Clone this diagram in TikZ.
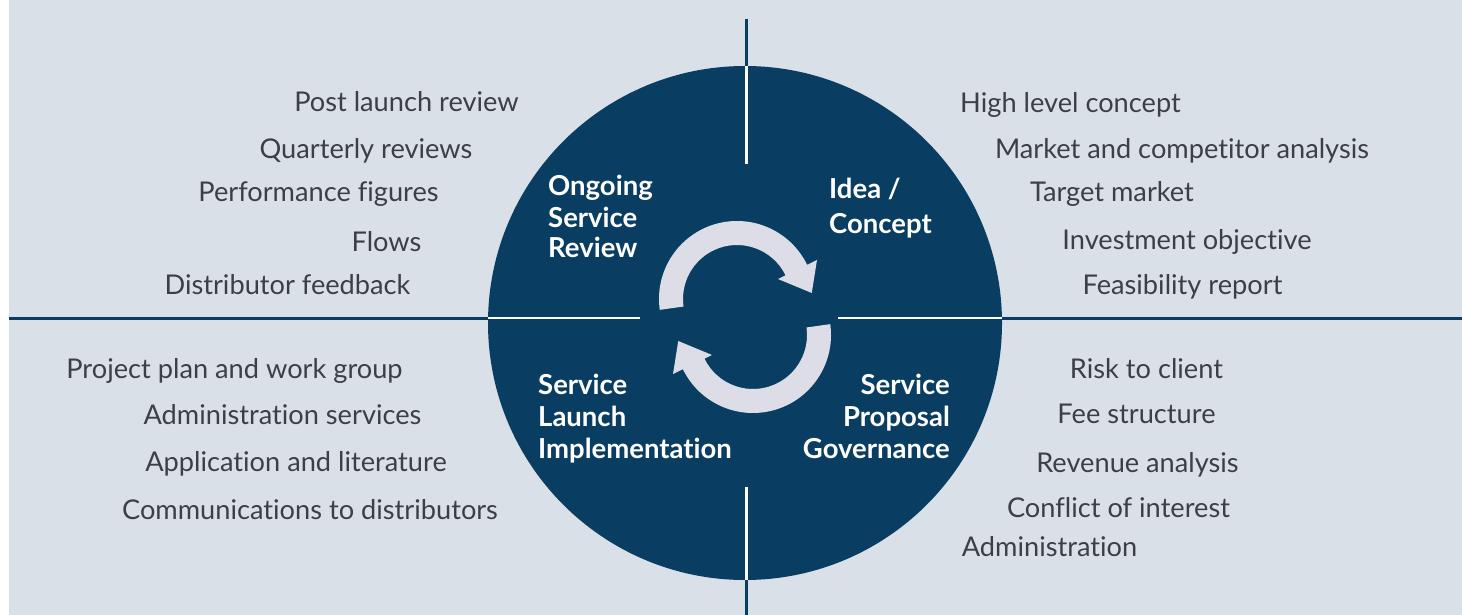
\documentclass[tikz,border=0pt]{standalone}
\usepackage{fontspec}
\setmainfont{Lato}[Ligatures=NoCommon]
\usetikzlibrary{calc}
\definecolor{bgc}{RGB}{217,224,231}
\definecolor{navy}{RGB}{9,62,98}
\definecolor{arrowc}{RGB}{220,221,230}
\definecolor{txtc}{RGB}{60,64,68}
\tikzset{
  outer label/.style={anchor=base, inner sep=0pt, text=txtc, font=\fontsize{27.2}{32}\selectfont},
  phase label/.style={inner sep=0pt, text=white, font=\fontsize{27.5}{32}\selectfont\bfseries},
  darkline/.style={draw=navy, line width=3pt},
  whiteline/.style={draw=white, line width=2.5pt},
  cyclearrow/.style={fill=arrowc},
}
\begin{document}
\begin{tikzpicture}[x=1pt,y=1pt]
\useasboundingbox (0,0) rectangle (1462,-615);
\fill[white] (0,0) rectangle (1462,-615);
\fill[bgc] (9,0) rectangle (1462,-615);

% dividers outside the circle
\coordinate (vtop) at (746.5,-19);
\coordinate (vbot) at (746.5,-615);
\coordinate (hleft) at (9,-318);
\coordinate (hright) at (1462,-318);
\draw[darkline] (vtop) -- (vbot);
\draw[darkline] (hleft) -- (hright);

% main circle
\node[circle, fill=navy, minimum size=514pt, inner sep=0pt] (disc) at (745,-323) {};

% white dividers inside the circle
\coordinate (wt1) at (746.5,-66);
\coordinate (wt2) at (746.5,-164);
\coordinate (wb1) at (746.5,-487);
\coordinate (wb2) at (746.5,-580);
\coordinate (wl1) at (488,-318);
\coordinate (wl2) at (640,-318);
\coordinate (wr1) at (838,-318);
\coordinate (wr2) at (1002,-318);
\draw[whiteline] (wt1) -- (wt2);
\draw[whiteline] (wb1) -- (wb2);
\draw[whiteline] (wl1) -- (wl2);
\draw[whiteline] (wr1) -- (wr2);

% cycle arrows
\coordinate (C1) at (737,-299);
\coordinate (C2) at (753,-335);
\fill[cyclearrow] ($(C1)+(188:78)$) arc[start angle=188,end angle=26,radius=78]
  -- ($(C1)+(26:89)$) -- ($(C1)+(4.6:75)$) -- ($(C1)+(26:45.6)$)
  -- ($(C1)+(26:54)$) arc[start angle=26,end angle=188,radius=54] -- cycle;
\fill[cyclearrow] ($(C2)+(8:78)$) arc[start angle=8,end angle=-154,radius=78]
  -- ($(C2)+(-154:89)$) -- ($(C2)+(184.6:75)$) -- ($(C2)+(-154:45.6)$)
  -- ($(C2)+(-154:54)$) arc[start angle=-154,end angle=8,radius=54] -- cycle;

% phase labels
\node[phase label, anchor=base west] (og1) at (548,-196) {Ongoing};
\node[phase label, anchor=base west] (og2) at (548,-227) {Service};
\node[phase label, anchor=base west] (og3) at (548,-257) {Review};
\node[phase label, anchor=base west] (ic1) at (829,-198) {Idea /};
\node[phase label, anchor=base west] (ic2) at (829,-233) {Concept};
\node[phase label, anchor=base west] (sl1) at (538,-394) {Service};
\node[phase label, anchor=base west] (sl2) at (538,-426) {Launch};
\node[phase label, anchor=base west] (sl3) at (538,-458) {Implementation};
\node[phase label, anchor=base east] (sp1) at (950,-394) {Service};
\node[phase label, anchor=base east] (sp2) at (950,-426) {Proposal};
\node[phase label, anchor=base east] (sp3) at (950,-458) {Governance};

% outer lists
\node[outer label] (a1) at (406.5,-112) {Post launch review};
\node[outer label] (a2) at (366,-158) {Quarterly reviews};
\node[outer label] (a3) at (318.5,-201) {Performance figures};
\node[outer label] (a4) at (386.5,-251) {Flows};
\node[outer label] (a5) at (287.5,-294) {Distributor feedback};

\node[outer label] (b1) at (1070.5,-113) {High level concept};
\node[outer label] (b2) at (1182,-158) {Market and competitor analysis};
\node[outer label] (b3) at (1112,-201) {Target market};
\node[outer label] (b4) at (1187,-249) {Investment objective};
\node[outer label] (b5) at (1182.5,-294) {Feasibility report};

\node[outer label] (c1) at (234.5,-378) {Project plan and work group};
\node[outer label] (c2) at (282.5,-424) {Administration services};
\node[outer label] (c3) at (296,-471) {Application and literature};
\node[outer label] (c4) at (310,-519) {Communications to distributors};

\node[outer label] (d1) at (1146.5,-378) {Risk to client};
\node[outer label] (d2) at (1136.5,-423) {Fee structure};
\node[outer label] (d3) at (1137.5,-472) {Revenue analysis};
\node[outer label] (d4) at (1118.5,-517) {Conflict of interest};
\node[outer label] (d5) at (1049.5,-556) {Administration};
\end{tikzpicture}
\end{document}
